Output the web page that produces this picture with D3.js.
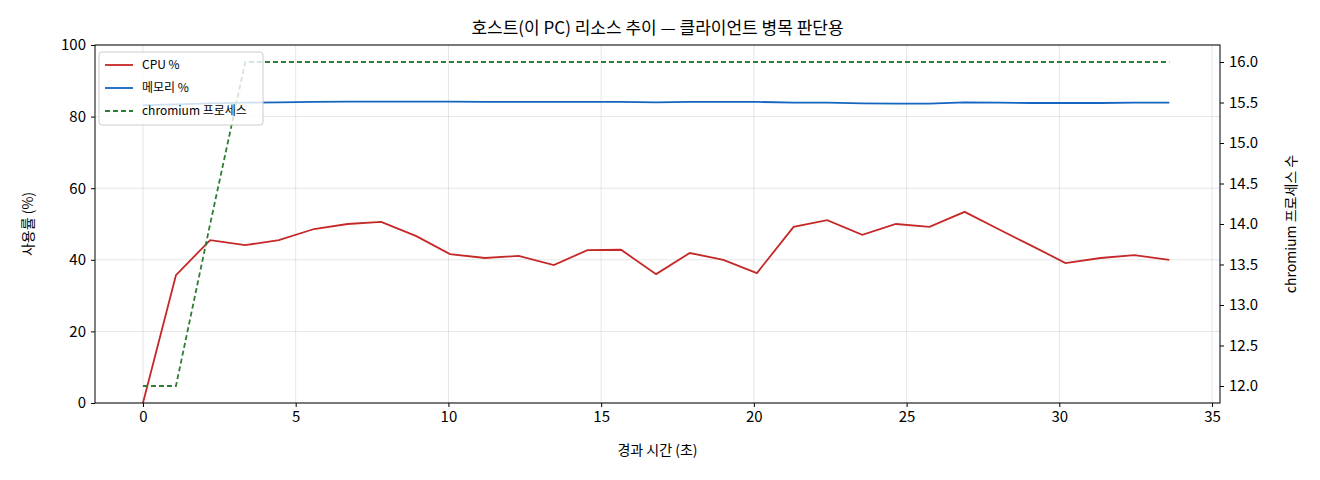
<!DOCTYPE html>
<html><head><meta charset="utf-8">
<script src="https://cdn.jsdelivr.net/npm/d3@7"></script>
<style>body{margin:0;background:#fff}text{font-family:"Noto Sans CJK KR","Noto Sans",sans-serif}</style>
</head><body><svg id="c" width="1320" height="480"></svg>
<script>
const timeSec=[0,1.08,2.2,3.35,4.45,5.6,6.7,7.8,8.95,10.05,11.2,12.3,13.45,14.55,15.65,16.8,17.9,19.0,20.1,21.3,22.4,23.55,24.65,25.75,26.9,28.0,29.1,30.2,31.35,32.45,33.6];
const cpuPct=[0,35.7,45.5,44.1,45.5,48.6,50,50.6,46.6,41.6,40.5,41.1,38.5,42.7,42.8,36,41.9,40,36.3,49.2,51.1,47,50,49.2,53.4,48.6,43.9,39.1,40.5,41.3,40];
const memPct=[83.2,83.4,83.7,83.9,84.0,84.1,84.2,84.2,84.2,84.2,84.1,84.1,84.1,84.1,84.1,84.0,84.1,84.1,84.1,83.9,83.9,83.7,83.6,83.6,84.0,83.9,83.8,83.8,83.8,83.9,83.9];
const chromiumProcs=[12,12,14,16,16,16,16,16,16,16,16,16,16,16,16,16,16,16,16,16,16,16,16,16,16,16,16,16,16,16,16];
const xTicks=[0,5,10,15,20,25,30,35];
const yTicks=[0,20,40,60,80,100];
const y2Ticks=[12,12.5,13,13.5,14,14.5,15,15.5,16];

const svg=d3.select("#c");
const L=95,R=1220,T=45,B=403;
const x=d3.scaleLinear().domain([-1.57,35.26]).range([L,R]);
const y=d3.scaleLinear().domain([0,100]).range([B,T]);
const y2=d3.scaleLinear().domain([11.79,16.21]).range([B,T]);

const g=svg.append("g");
g.selectAll(".gx").data(xTicks).join("line").attr("x1",d=>x(d)).attr("x2",d=>x(d)).attr("y1",T).attr("y2",B).attr("stroke","#000").attr("stroke-opacity",0.1);
g.selectAll(".gy").data(yTicks).join("line").attr("x1",L).attr("x2",R).attr("y1",d=>y(d)).attr("y2",d=>y(d)).attr("stroke","#000").attr("stroke-opacity",0.1);

const ln=(ys,sc)=>d3.line().x((d,i)=>x(timeSec[i])).y(d=>sc(d))(ys);
svg.append("path").attr("d",ln(cpuPct,y)).attr("fill","none").attr("stroke","#c62828").attr("stroke-width",1.8);
svg.append("path").attr("d",ln(memPct,y)).attr("fill","none").attr("stroke","#1565c0").attr("stroke-width",1.8);
svg.append("path").attr("d",ln(chromiumProcs,y2)).attr("fill","none").attr("stroke","#2e7d32").attr("stroke-width",1.8).attr("stroke-dasharray","5,3");

svg.append("rect").attr("x",L).attr("y",T).attr("width",R-L).attr("height",B-T).attr("fill","none").attr("stroke","#000").attr("stroke-width",1);

const ax=svg.append("g").attr("transform",`translate(0,${B})`).call(d3.axisBottom(x).tickValues(xTicks).tickSize(4).tickPadding(4));
const ay=svg.append("g").attr("transform",`translate(${L},0)`).call(d3.axisLeft(y).tickValues(yTicks).tickSize(4).tickPadding(5));
const ay2=svg.append("g").attr("transform",`translate(${R},0)`).call(d3.axisRight(y2).tickValues(y2Ticks).tickFormat(d3.format(".1f")).tickSize(4).tickPadding(5));
[ax,ay,ay2].forEach(a=>{a.select(".domain").remove();a.selectAll("text").attr("font-size",15).attr("fill","#000");});

svg.append("text").attr("x",(L+R)/2).attr("y",34).attr("text-anchor","middle").attr("font-size",17).text("호스트(이 PC) 리소스 추이 — 클라이언트 병목 판단용");
svg.append("text").attr("x",(L+R)/2).attr("y",455).attr("text-anchor","middle").attr("font-size",14).text("경과 시간 (초)");
svg.append("text").attr("transform",`translate(33,${(T+B)/2}) rotate(-90)`).attr("text-anchor","middle").attr("font-size",14).text("사용률 (%)");
svg.append("text").attr("transform",`translate(1296,${(T+B)/2}) rotate(-90)`).attr("text-anchor","middle").attr("font-size",14).text("chromium 프로세스 수");

const lg=svg.append("g").attr("transform","translate(99,52)");
lg.append("rect").attr("width",164).attr("height",73).attr("rx",3).attr("fill","#fff").attr("fill-opacity",0.8).attr("stroke","#ccc");
const items=[["CPU %","#c62828",null],["메모리 %","#1565c0",null],["chromium 프로세스","#2e7d32","5,3"]];
items.forEach((it,i)=>{const yy=13+i*23;
 lg.append("line").attr("x1",6).attr("x2",34).attr("y1",yy).attr("y2",yy).attr("stroke",it[1]).attr("stroke-width",1.8).attr("stroke-dasharray",it[2]);
 lg.append("text").attr("x",43).attr("y",yy+4).attr("font-size",12).text(it[0]);});
</script></body></html>
